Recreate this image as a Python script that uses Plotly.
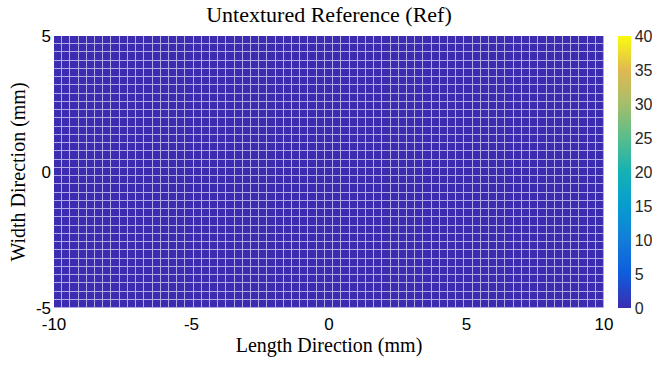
import numpy as np
import plotly.graph_objects as go

# Data: untextured reference surface height (all zero) on a regular grid
x_edges = np.linspace(-10, 10, 68)   # length direction (mm)
y_edges = np.linspace(-5, 5, 34)     # width direction (mm)
z_values = np.zeros((len(y_edges) - 1, len(x_edges) - 1))

x_ticks = [-10, -5, 0, 5, 10]
x_tick_text = ["-10", "-5", "0", "5", "10"]
y_ticks = [-5, 0, 5]
y_tick_text = ["-5", "0", "5"]
cbar_ticks = [0, 5, 10, 15, 20, 25, 30, 35, 40]

parula = [
    [0.0, "#3b2cb0"],
    [0.125, "#0f5cdd"],
    [0.25, "#127dd8"],
    [0.375, "#079ccf"],
    [0.5, "#15b1b4"],
    [0.625, "#59bd8c"],
    [0.75, "#a5be6b"],
    [0.875, "#e1b952"],
    [1.0, "#f9fb0e"],
]

fig = go.Figure(
    go.Heatmap(
        x=x_edges,
        y=y_edges,
        z=z_values,
        zmin=0,
        zmax=40,
        colorscale=parula,
        xgap=1,
        ygap=1,
        hoverinfo="skip",
        colorbar=dict(
            thickness=13,
            len=1.0,
            lenmode="fraction",
            y=0.5,
            yanchor="middle",
            x=(618 - 54) / 550,
            xanchor="left",
            xpad=0,
            ypad=0,
            outlinewidth=0,
            tickvals=cbar_ticks,
            ticks="",
            tickfont=dict(family="Liberation Sans, Arial", size=16, color="#262626"),
        ),
    )
)

fig.update_layout(
    width=652,
    height=365,
    margin=dict(l=54, r=48, t=36, b=57, autoexpand=False),
    paper_bgcolor="white",
    plot_bgcolor="#b3abe3",
    title=dict(
        text="Untextured Reference (Ref)",
        x=(54 + 604) / 2 / 652,
        xanchor="center",
        y=1 - 14 / 365,
        yanchor="middle",
        font=dict(family="Liberation Serif, Times New Roman", size=22, color="black"),
    ),
    xaxis=dict(
        range=[-10, 10],
        tickvals=x_ticks,
        ticktext=x_tick_text,
        ticks="",
        showgrid=False,
        zeroline=False,
        showline=False,
        ticklabelstandoff=4,
        tickfont=dict(family="Liberation Sans, Arial", size=17, color="black"),
        title=dict(
            text="Length Direction (mm)",
            font=dict(family="Liberation Serif, Times New Roman", size=20, color="black"),
            standoff=2,
        ),
    ),
    yaxis=dict(
        range=[-5, 5],
        tickvals=y_ticks,
        ticktext=y_tick_text,
        ticks="",
        showgrid=False,
        zeroline=False,
        showline=False,
        ticklabelstandoff=2,
        tickfont=dict(family="Liberation Sans, Arial", size=17, color="black"),
        title=dict(
            text="Width Direction (mm)",
            font=dict(family="Liberation Serif, Times New Roman", size=20, color="black"),
            standoff=4,
        ),
    ),
)

fig.write_html("out.html")
